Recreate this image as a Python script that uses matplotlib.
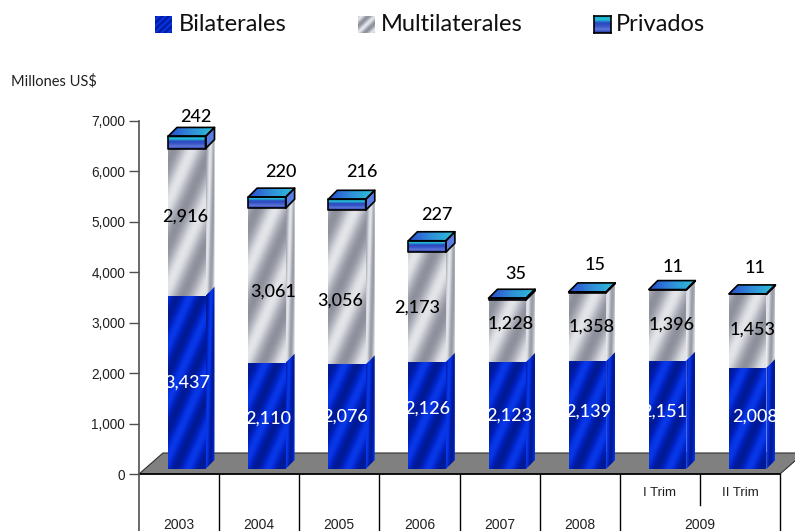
import numpy as np
import matplotlib
matplotlib.use("Agg")
import matplotlib.pyplot as plt
from matplotlib.colors import LinearSegmentedColormap
from matplotlib.patches import Polygon

# values
bilaterales = [3437, 2110, 2076, 2126, 2123, 2139, 2151, 2008]
multilaterales = [2916, 3061, 3056, 2173, 1228, 1358, 1396, 1453]
privados = [242, 220, 216, 227, 35, 15, 11, 11]
years = ["2003", "2004", "2005", "2006", "2007", "2008"]
quarters = ["I Trim", "II Trim"]
last_year = "2009"
yticks = [0, 1000, 2000, 3000, 4000, 5000, 6000, 7000]

# label nudges in pixels, the labels were placed by hand in the original
off_bil = [(0, 0), (1, -3), (-2, 0), (0, 7), (2, 0), (1, 3), (-3, 3), (7, 2)]
off_mul = [(-2, 6), (6, -6), (-7, -13), (-10, -1), (3, 7), (4, 0), (4, 1), (5, 1)]
off_pri = [(9, 19), (14, 25), (15, 27), (10, 26), (9, 24), (8, 27), (6, 23), (7, 26)]

W, H = 795, 531
LABEL_FONT = "Lato"
plt.rcParams["font.family"] = ["Liberation Sans", "DejaVu Sans"]

fig = plt.figure(figsize=(W / 100, H / 100), dpi=100)
ax = fig.add_axes([139 / W, 1 - 474 / H, 641 / W, 353 / H])
ax.set_xlim(0, 8)
ax.set_ylim(0, 7000)

# pixels to data units
PX = 8 / 641
PY = 7000 / 353
BAR_L = 29 * PX
BAR_W = 37.5 * PX
DX = 9 * PX
DY = 9 * PY
BASE = 5 * PY

blue_cm = LinearSegmentedColormap.from_list("b", ["#001a94", "#0022c4", "#0838e8"])
grey_cm = LinearSegmentedColormap.from_list("g", ["#8e919c", "#b4b6c0", "#e4e5e9"])
stripe_cm = LinearSegmentedColormap.from_list(
    "s", ["#1c2f9e", "#5f78d8", "#3a55c8", "#2a48c0", "#23c4d8", "#1fa8d0"])
lid_cm = LinearSegmentedColormap.from_list("l", ["#2a4fd0", "#2f8fd8", "#2cc0d8"])
side_cm = LinearSegmentedColormap.from_list("c", ["#4a70e0", "#6f93ea"])


def streaks(cycles, h_px, w_px=38, lean=0.45, phase=0.0):
    # diagonal sheen used as fill texture, leaning like /
    n = max(int(h_px), 4)
    u, v = np.meshgrid(np.linspace(0, 1, 60), np.linspace(0, 1, n))
    return 0.5 + 0.5 * np.cos(2 * np.pi * (cycles * (u - lean * v * h_px / w_px) + phase))


def side_band(h_px, floor=0.0):
    # side faces: light edges with a darker band down the middle
    t = streaks(1.0, h_px, w_px=9, lean=0.03)
    return floor + (1 - floor) * t


def textured(axis, pts, tex, cmap, z, edge=None, lw=1.0):
    pts = np.array(pts)
    box = (pts[:, 0].min(), pts[:, 0].max(), pts[:, 1].min(), pts[:, 1].max())
    im = axis.imshow(tex, extent=box, origin="lower", cmap=cmap, vmin=0, vmax=1,
                     aspect="auto", zorder=z, interpolation="bilinear")
    clip = Polygon(pts, closed=True, transform=axis.transData, fc="none", ec="none")
    axis.add_patch(clip)
    im.set_clip_path(clip)
    if edge:
        axis.add_patch(Polygon(pts, closed=True, fc="none", ec=edge, lw=lw, zorder=z + 0.1,
                               clip_on=False, joinstyle="round"))


def column(i, y0, y1, tex_front, tex_side, cmap, z):
    x0 = i + BAR_L
    x1 = x0 + BAR_W
    front = [(x0, y0), (x1, y0), (x1, y1), (x0, y1)]
    side = [(x1, y0), (x1 + DX, y0 + DY), (x1 + DX, y1 + DY), (x1, y1)]
    for poly, tex in ((front, tex_front), (side, tex_side)):
        textured(ax, poly, tex, cmap, z)


# floor of the 3d box
fdx, fdy = 24 * PX, 21 * PY
ax.add_patch(Polygon([(0, 0), (fdx, fdy), (8 + fdx, fdy), (8, 0)], closed=True, fc="#808080",
                     ec="#303030", lw=0.8, zorder=1, clip_on=False))

for i in range(len(bilaterales)):
    bil, mul, pri = bilaterales[i], multilaterales[i], privados[i]
    y1 = BASE + bil
    y2 = y1 + mul
    y3 = y2 + pri
    z = 3 + i
    grey_h = mul / PY
    blue_h = bil / PY
    column(i, y1, y2, streaks(1.0, grey_h, phase=0.1), side_band(grey_h + 9, 0.15),
           grey_cm, z)
    column(i, BASE, y1, streaks(1.5, blue_h, phase=0.2), side_band(blue_h + 9),
           blue_cm, z + 0.2)

    # privados cap with black outline
    x0 = i + BAR_L
    x1 = x0 + BAR_W
    rows = np.linspace(0, 1, 60)[:, None] * np.ones((60, 4))
    textured(ax, [(x0, y2), (x1, y2), (x1, y3), (x0, y3)], rows, stripe_cm, z + 0.4, "black", 1.2)
    textured(ax, [(x1, y2), (x1 + DX, y2 + DY), (x1 + DX, y3 + DY), (x1, y3)],
             np.full((4, 4), 0.4), side_cm, z + 0.4, "black", 1.2)
    textured(ax, [(x0, y3), (x1, y3), (x1 + DX, y3 + DY), (x0 + DX, y3 + DY)],
             np.linspace(0, 1, 30)[None, :] * np.ones((4, 30)), lid_cm, z + 0.4, "black", 1.2)

    cx = x0 + BAR_W / 2
    kw = dict(textcoords="offset pixels", ha="center", va="center", fontsize=13,
              family=LABEL_FONT, zorder=30, annotation_clip=False, fontweight="medium")
    ax.annotate(f"{bil:,}", (cx, BASE + bil / 2), xytext=off_bil[i], color="white", **kw)
    ax.annotate(f"{mul:,}", (cx, y1 + mul / 2), xytext=off_mul[i], color="black", **kw)
    ax.annotate(f"{pri:,}", (cx, y3), xytext=off_pri[i], color="black", **kw)

ax.set_xlim(0, 8)
ax.set_ylim(0, 7000)
ax.patch.set_alpha(0)
for s in ("top", "right", "bottom"):
    ax.spines[s].set_visible(False)
ax.spines["left"].set_color("#505050")
ax.spines["left"].set_linewidth(1.2)
ax.set_xticks([])
ax.set_yticks(yticks)
ax.set_yticklabels([f"{v:,}" for v in yticks], fontsize=9.8, color="#202020")
ax.tick_params(axis="y", length=7, width=1, color="#505050", pad=3)

# category table under the floor
bottom = -57 * PY
ax.plot([0, 8], [0, 0], color="black", lw=1.2, clip_on=False, zorder=2)
ax.plot([0, 0], [0, bottom], color="#505050", lw=1.2, clip_on=False)
for x in range(1, 9):
    if x == 7:
        continue
    ax.plot([x, x], [0, bottom], color="black", lw=1, clip_on=False)
ax.plot([7, 7], [0, -31 * PY], color="black", lw=1, clip_on=False)
for i, y in enumerate(years):
    ax.text(i + 0.5, -51 * PY, y, ha="center", va="center", fontsize=10, color="#202020")
ax.text(7, -51 * PY, last_year, ha="center", va="center", fontsize=10, color="#202020")
for i, q in enumerate(quarters):
    ax.text(6.5 + i, -18.5 * PY, q, ha="center", va="center", fontsize=9.5, color="#202020")

# legend on top
fig.text(11 / W, 1 - 81 / H, "Millones US$", fontsize=10.5, family=LABEL_FONT, va="center",
         color="#202020")
names = ["Bilaterales", "Multilaterales", "Privados"]
swatch_x = [155, 358, 594]
text_x = [179, 381, 616]
for name, sx, tx, k in zip(names, swatch_x, text_x, range(3)):
    sw = fig.add_axes([sx / W, 1 - 33 / H, 17 / W, 17 / H])
    sw.set_xticks([])
    sw.set_yticks([])
    if k == 0:
        sw.imshow(streaks(2.5, 17, 17, 1.0), cmap=blue_cm, aspect="auto", origin="lower")
    elif k == 1:
        sw.imshow(streaks(1.2, 17, 17, 1.0), cmap=grey_cm, aspect="auto", origin="lower")
    else:
        sw.imshow(np.linspace(0, 1, 40)[:, None], cmap=stripe_cm, aspect="auto", origin="lower")
    for s in sw.spines.values():
        s.set_visible(k == 2)
        s.set_linewidth(1.2)
    fig.text(tx / W, 1 - 24.5 / H, name, fontsize=17, family=LABEL_FONT, va="center",
             color="#101010")

fig.savefig("out.png", dpi=100)
